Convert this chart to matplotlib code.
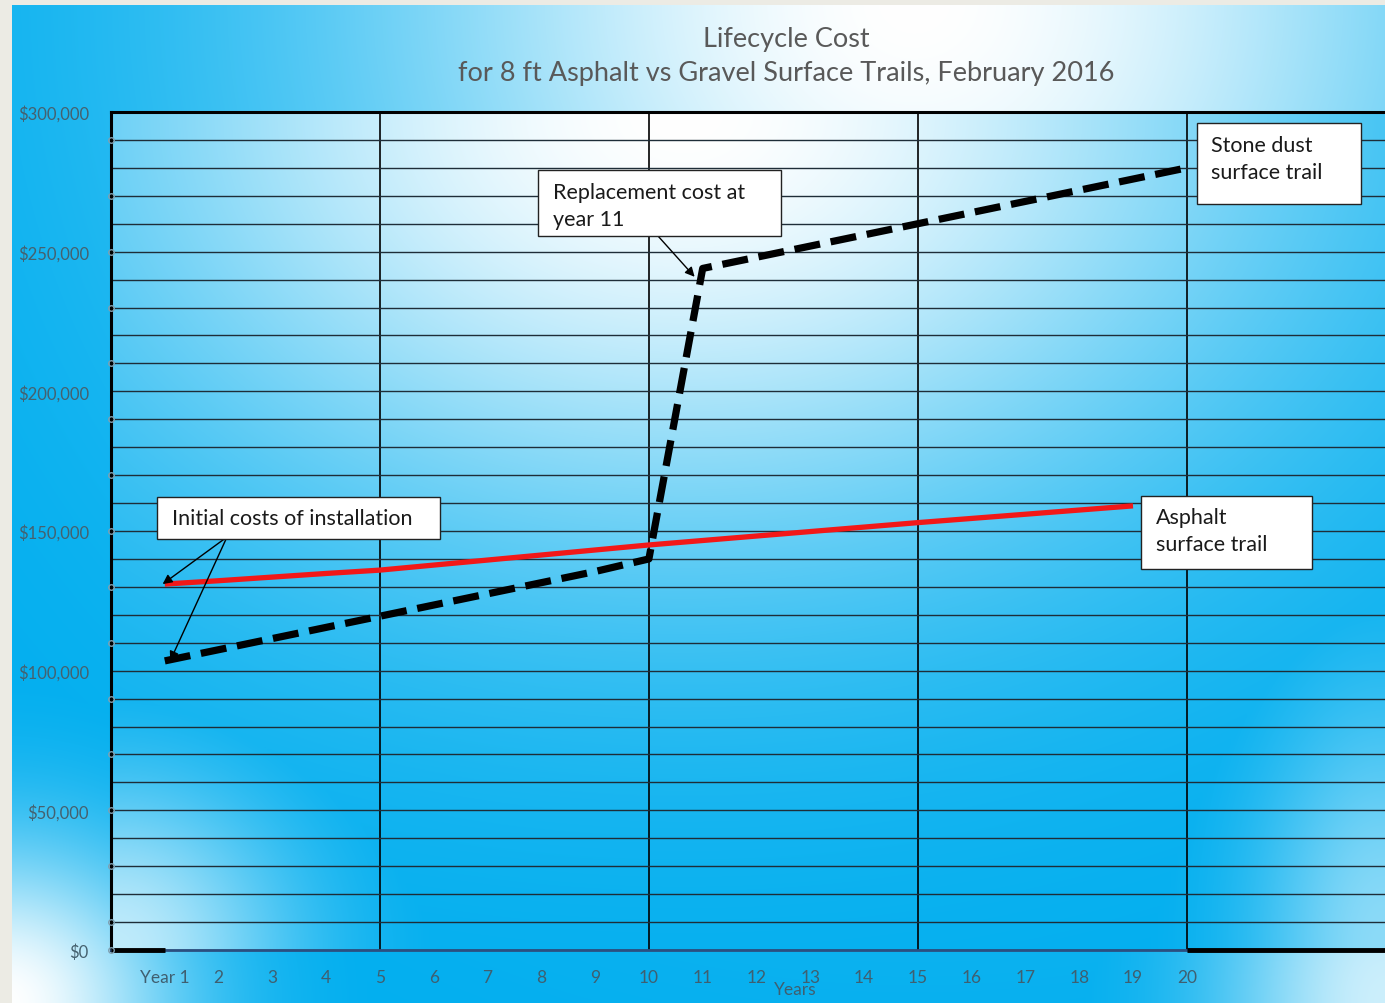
import numpy as np
import matplotlib
matplotlib.use('Agg')
import matplotlib.pyplot as plt
from matplotlib.patches import Rectangle

# ---------------- data ----------------
years = list(range(1, 21))
year_labels = ['Year 1'] + [str(i) for i in range(2, 21)]
# Asphalt surface trail (years 1-19), dollars
asphalt = [131000, 132200, 133500, 134800, 136000, 137800, 139600, 141400, 143200, 145000,
           146600, 148200, 149800, 151400, 153000, 154500, 156000, 157500, 159000]
# Stone dust (gravel) surface trail (years 1-20), dollars
gravel = [103500, 107500, 111500, 115500, 119500, 123500, 127500, 131500, 135500, 140000,
          244000, 248000, 252000, 256000, 260000, 264000, 268000, 272000, 276000, 280000]
y_ticks = [0, 50000, 100000, 150000, 200000, 250000, 300000]
y_tick_labels = ['$0', '$50,000', '$100,000', '$150,000', '$200,000', '$250,000', '$300,000']
title_lines = ['Lifecycle Cost', 'for 8 ft Asphalt vs Gravel Surface Trails, February 2016']

FONT = 'Lato'
W, H = 1385, 1004
fig = plt.figure(figsize=(W / 100, H / 100), dpi=100)
fig.patch.set_facecolor('#ecebe4')

def fx(px):
    return px / W

def fy(py):
    return 1 - py / H

blue = np.array([0, 174, 239]) / 255.0
white = np.array([1.0, 1.0, 1.0])

def blend(w):
    return blue[None, None, :] * (1 - w[..., None]) + white[None, None, :] * w[..., None]

# ---------------- figure background gradient ----------------
x0, y0 = 12, 6
bg = fig.add_axes([fx(x0), 0, 1 - fx(x0), 1 - y0 / H])
bg.set_axis_off()
xs = np.arange(x0, W) / W
ys = np.arange(y0, H) / H
U, V = np.meshgrid(xs, ys)
d1 = ((U - 0.66) / 0.45) ** 2 + ((V - 0.0) / 0.58) ** 2
w1 = np.exp(-1.15 * d1)
w2 = np.exp(-(((U - 0.0) / 0.13) ** 2 + ((V - 1.0) / 0.16) ** 2))
w3 = 0.8 * np.exp(-(((U - 1.0) / 0.12) ** 2 + ((V - 1.0) / 0.25) ** 2))
w = np.maximum(np.maximum(w1, w2), w3)
bg.imshow(blend(w), aspect='auto', extent=[0, 1, 0, 1], origin='upper', interpolation='bilinear')
bg.set_xlim(0, 1)
bg.set_ylim(0, 1)

# ---------------- plot-area gradient ----------------
L, R, T, B = 111, 1385, 113, 951
rect = [fx(L), fy(B), fx(R - L), (B - T) / H]
bg2 = fig.add_axes(rect)
bg2.set_axis_off()
a = np.linspace(0, 1, 400)
b = np.linspace(1, 0, 300)   # row 0 = top
A, Bm = np.meshgrid(a, b)
p1 = np.exp(-1.25 * (((A - 0.45) / 0.55) ** 2 + ((1 - Bm) / 0.6) ** 2))
p2 = 0.75 * np.exp(-((A / 0.14) ** 2 + (Bm / 0.2) ** 2))
p3 = 0.55 * np.exp(-(((A - 1) / 0.1) ** 2 + (Bm / 0.3) ** 2))
pw = np.maximum(np.maximum(p1, p2), p3)
bg2.imshow(blend(pw), aspect='auto', extent=[0, 1, 0, 1], origin='upper', interpolation='bilinear')
bg2.set_xlim(0, 1)
bg2.set_ylim(0, 1)

# ---------------- main axes ----------------
ax = fig.add_axes(rect)
ax.patch.set_alpha(0)
step = (1187 - 165) / 19.0
ax.set_xlim(0, (R - L) / step)
ax.set_ylim(0, 300000)

ax.set_yticks(y_ticks)
ax.set_yticklabels(y_tick_labels)
ax.set_yticks(np.arange(0, 300001, 10000), minor=True)
ax.set_xticks(years)
ax.set_xticklabels(year_labels)
ax.tick_params(axis='y', which='both', length=0, pad=16, labelsize=12, labelcolor='#45616f')
ax.tick_params(axis='x', which='both', length=0, pad=14, labelsize=12.5, labelcolor='#3f5f70')
for lab in ax.get_xticklabels() + ax.get_yticklabels():
    lab.set_fontfamily(FONT)

ax.grid(axis='y', which='both', color='#1e2d38', lw=1.0, zorder=1)
for xv in [5, 10, 15, 20]:
    ax.axvline(xv, color='black', lw=1.2, zorder=1)

for s in ['left', 'top']:
    ax.spines[s].set_color('black')
    ax.spines[s].set_linewidth(2.2)
ax.spines['right'].set_visible(False)
ax.spines['bottom'].set_color('#2b4f80')
ax.spines['bottom'].set_linewidth(2.0)
ax.hlines(0, 0, 1, color='black', lw=3.5, clip_on=False, zorder=3)
ax.hlines(0, 20, ax.get_xlim()[1], color='black', lw=3.5, clip_on=False, zorder=3)

# small axis tick circles
ax.plot([0] * 16, [0] + list(range(10000, 300000, 20000)), 'o', ms=4, mfc='none',
        mec='#7f9fb0', mew=1, clip_on=False, zorder=4)

# series
ax.plot(years[:len(asphalt)], asphalt, color='#f21818', lw=3.8, zorder=5,
        solid_capstyle='butt')
ax.plot(years, gravel, color='black', lw=5.2, ls=(0, (3.6, 1.5)), zorder=6)

# ---------------- title ----------------
fig.text(fx(786), fy(40), title_lines[0], ha='center', va='center', fontsize=19.5,
         color='#595959', family=FONT)
fig.text(fx(786), fy(74), title_lines[1], ha='center', va='center', fontsize=19.5,
         color='#595959', family=FONT)
fig.text(fx(795), fy(990), 'Years', ha='center', va='center', fontsize=12.5,
         color='#3f5f70', family=FONT)

# ---------------- annotation boxes ----------------
def box(x1, y1, x2, y2, lines, tx, ty, dy=27):
    fig.patches.append(Rectangle((fx(x1), fy(y2)), fx(x2 - x1), (y2 - y1) / H,
                                 transform=fig.transFigure, facecolor='white',
                                 edgecolor='#222222', lw=1.0, zorder=10))
    for i, t in enumerate(lines):
        fig.text(fx(tx), fy(ty + i * dy), t, ha='left', va='center', fontsize=15.5,
                 color='#1a1a1a', family=FONT, zorder=11)

box(1197, 124, 1361, 205, ['Stone dust', 'surface trail'], 1211, 146)
box(1141, 497, 1312, 570, ['Asphalt', 'surface trail'], 1156, 518)
box(538, 171, 781, 237, ['Replacement cost at', 'year 11'], 553, 193)
box(157, 498, 440, 540, ['Initial costs of installation'], 172, 519)

arrow = dict(arrowstyle='-|>', color='black', lw=1.0, mutation_scale=14,
             shrinkA=0, shrinkB=0)
ax.annotate('', xy=(0.96, asphalt[0]), xytext=(fx(227), fy(538)),
            textcoords='figure fraction', arrowprops=arrow, zorder=12)
ax.annotate('', xy=(1.1, gravel[0]), xytext=(fx(227), fy(538)),
            textcoords='figure fraction', arrowprops=arrow, zorder=12)
ax.annotate('', xy=(10.85, gravel[10] - 3000), xytext=(fx(658), fy(237)),
            textcoords='figure fraction', arrowprops=arrow, zorder=12)

fig.savefig('out.png', dpi=100, facecolor=fig.get_facecolor())
